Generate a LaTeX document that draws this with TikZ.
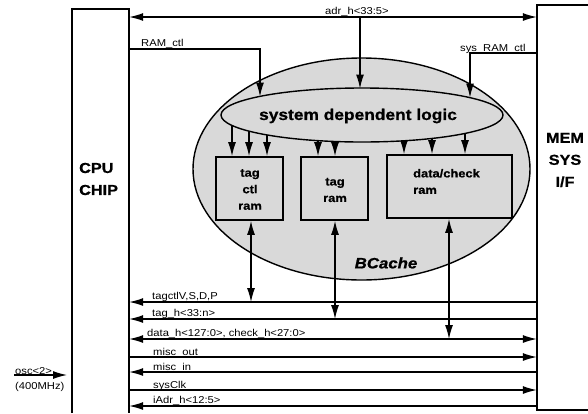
\documentclass[tikz,border=0pt]{standalone}
\usepackage{fontspec}
\setmainfont[FakeStretch=1.12]{Liberation Sans}
\newfontfamily\heavyfont[FakeStretch=1.12,FakeBold=0.8]{Liberation Sans}
\usetikzlibrary{arrows.meta,shapes.geometric}
\definecolor{shade}{gray}{0.85}
\begin{document}
\begin{tikzpicture}[x=1pt,y=-1pt,
 ln/.style={line width=1.2pt},
 arr/.style={ln,-{Latex[length=14pt,width=8pt]}},
 barr/.style={ln,{Latex[length=14pt,width=8pt]}-{Latex[length=14pt,width=8pt]}},
 larr/.style={ln,{Latex[length=14pt,width=8pt]}-},
 lbl/.style={font=\fontsize{10}{12}\selectfont, inner sep=0pt, anchor=base west},
 rambox/.style={draw, line width=1.8pt, fill=shade, inner sep=0pt},
 boxtxt/.style={font=\fontsize{11.5}{16.5}\selectfont\heavyfont\bfseries, align=center, inner sep=0pt},
 bigtxt/.style={font=\fontsize{14.5}{22}\selectfont\heavyfont\bfseries, inner sep=0pt}
]
\useasboundingbox (0,0) rectangle (588,413);
\clip (0,0) rectangle (588,413);
% chips
\node[minimum width=57pt, minimum height=404pt, inner sep=0pt] (cpu) at (100.5,211) {};
\draw[line width=1.8pt] (cpu.south west) -- (cpu.north west) -- (cpu.north east) -- (cpu.south east);
\node[bigtxt, align=left, anchor=west] (cputxt) at (79,179) {CPU\\CHIP};
\node[minimum width=63pt, minimum height=405pt, inner sep=0pt] (mem) at (568.5,207.5) {};
\draw[line width=1.8pt] (mem.north east) -- (mem.north west) -- (mem.south west) -- (mem.south east);
\node[bigtxt, align=center] (memtxt) at (565,160) {MEM\\SYS\\I/F};
% BCache
\node[ellipse, draw, line width=1.4pt, fill=shade, minimum width=337pt, minimum height=222pt, inner sep=0pt] (bc) at (361.5,169) {};
\node[font=\fontsize{15}{18}\selectfont\heavyfont\bfseries\itshape, inner sep=0pt] (bctxt) at (386,263) {BCache};
\node[rambox, minimum width=67pt, minimum height=63pt] (tcr) at (249.5,188.5) {};
\node[boxtxt] (tcrt) at (250,189.5) {tag\\ctl\\ram};
\node[rambox, minimum width=67pt, minimum height=63pt] (tr) at (334.5,188.5) {};
\node[boxtxt] (trt) at (335,190) {tag\\ram};
\node[rambox, minimum width=125pt, minimum height=63pt] (dr) at (449.5,186.5) {};
\node[boxtxt, align=left, anchor=west] (drt) at (413,181.5) {data/check\\ram};
\coordinate (ic) at (362,115);
\foreach \x in {232,249,267} \draw[arr] (ic -| \x,0) -- (tcr.north -| \x,0);
\foreach \x in {318,335} \draw[arr] (ic -| \x,0) -- (tr.north -| \x,0);
\foreach \x in {404,432,465} \draw[arr] (ic -| \x,0) -- (dr.north -| \x,0);
\node[ellipse, draw, line width=1.4pt, fill=shade, minimum width=282pt, minimum height=54pt, inner sep=0pt] (sdl) at (ic) {};
\node[font=\fontsize{15.5}{18}\selectfont\heavyfont\bfseries, inner sep=0pt] (sdlt) at (358,116) {system dependent logic};
% top signals
\coordinate (adrj) at (360,17);
\coordinate (adrtip) at (360,88.5);
\coordinate (ramtip) at (260,96.5);
\coordinate (systip) at (470,97.5);
\draw[barr] (cpu.east |- adrj) -- (mem.west |- adrj);
\draw[arr] (adrj) -- (adrtip);
\node[lbl] (adrl) at (325,14.5) {adr\_h<33:5>};
\draw[arr] (cpu.east |- 0,49) -| (ramtip);
\node[lbl] (raml) at (141,46.5) {RAM\_ctl};
\draw[arr] (mem.west |- 0,53) -| (systip);
\node[lbl] (sysl) at (460,51) {sys\_RAM\_ctl};
% bus lines
\coordinate (btc) at (0,302);
\coordinate (btg) at (0,319);
\coordinate (bdt) at (0,339);
\draw[larr] (cpu.east |- btc) -- (mem.west |- btc);
\node[lbl] (l1) at (152,299.5) {tagctlV,S,D,P};
\draw[larr] (cpu.east |- btg) -- (mem.west |- btg);
\node[lbl] (l2) at (152,316.5) {tag\_h<33:n>};
\draw[barr] (cpu.east |- bdt) -- (mem.west |- bdt);
\node[lbl] (l3) at (147,336) {data\_h<127:0>, check\_h<27:0>};
\draw[arr] (cpu.east |- 0,357) -- (mem.west |- 0,357);
\node[lbl] (l4) at (153,355.5) {misc\_out};
\draw[larr] (cpu.east |- 0,372) -- (mem.west |- 0,372);
\node[lbl] (l5) at (153,370) {misc\_in};
\draw[arr] (cpu.east |- 0,390) -- (mem.west |- 0,390);
\node[lbl] (l6) at (153,388) {sysClk};
\draw[larr] (cpu.east |- 0,406) -- (mem.west |- 0,406);
\node[lbl] (l7) at (153,403.5) {iAdr\_h<12:5>};
% verticals from rams
\draw[barr] (tcr.south -| 251,0) -- (251,0 |- btc);
\draw[barr] (tr.south -| 335,0) -- (335,0 |- btg);
\draw[barr] (dr.south -| 449,0) -- (449,0 |- bdt);
% oscillator
\coordinate (oscs) at (14,375);
\coordinate (osce) at (67,375);
\draw[arr] (oscs) -- (osce);
\node[lbl] (oscl) at (15,374) {osc<2>};
\node[lbl] (oscf) at (15,389) {(400MHz)};
\end{tikzpicture}
\end{document}
